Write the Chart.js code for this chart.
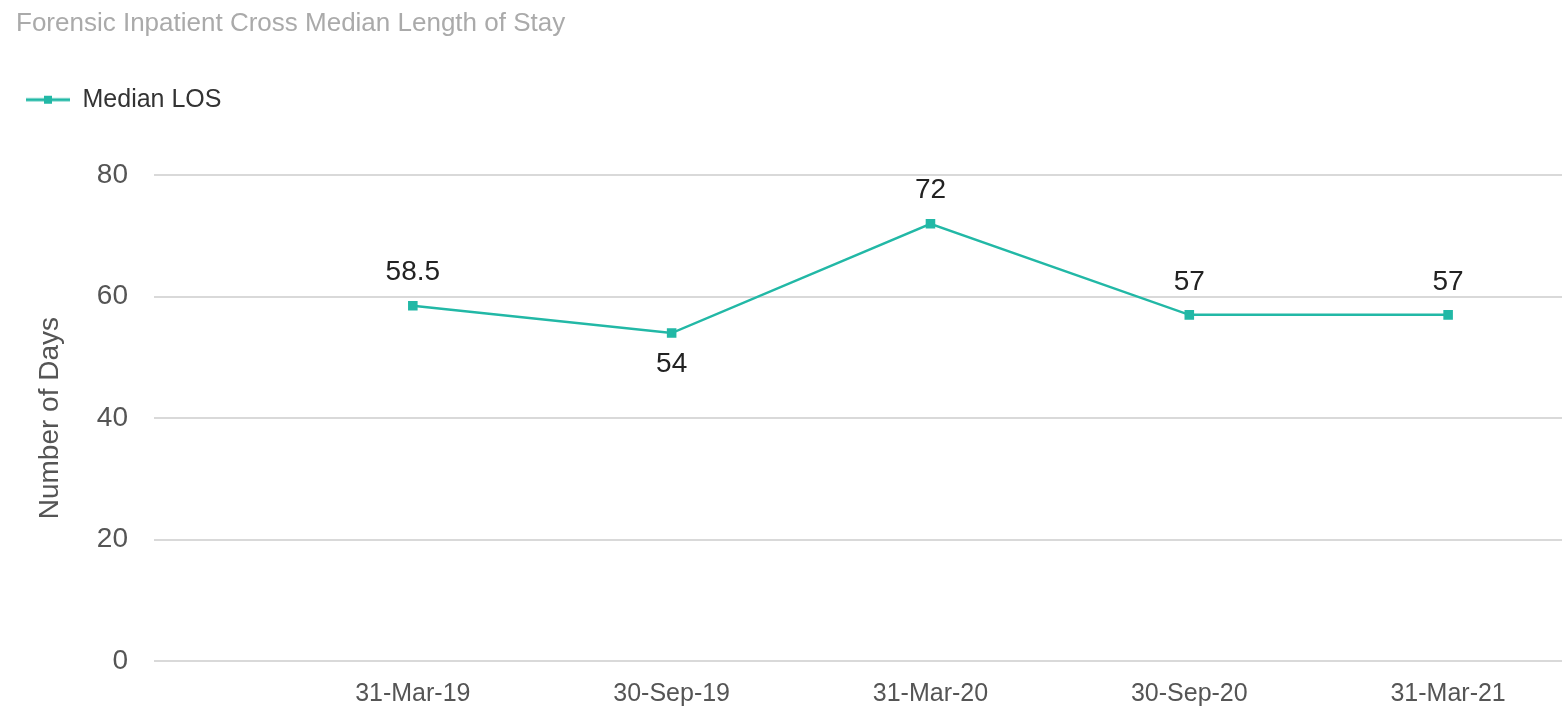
<!DOCTYPE html>
<html>
<head>
<meta charset="utf-8">
<script src="https://cdn.jsdelivr.net/npm/chart.js@4.4.1/dist/chart.umd.min.js"></script>
<style>
  html, body { margin: 0; padding: 0; background: #fff; overflow: hidden; }
  #wrap { width: 1562px; height: 714px; }
  canvas { display: block; }
</style>
</head>
<body>
<div id="wrap"><canvas id="losChart"></canvas></div>
<script>
// data
const periods = ["31-Mar-19", "30-Sep-19", "31-Mar-20", "30-Sep-20", "31-Mar-21"];
const medianLOS = [58.5, 54, 72, 57, 57];
const yTicks = [0, 20, 40, 60, 80];

const FONT = "'Liberation Sans Narrow', 'Arial Narrow', 'Liberation Sans', Arial, sans-serif";
const TEAL = "#22b8a6";

// legend marker: short line with a square in the middle
const marker = document.createElement("canvas");
marker.width = 44; marker.height = 12;
(function () {
  const c = marker.getContext("2d");
  c.strokeStyle = TEAL; c.lineWidth = 3;
  c.beginPath(); c.moveTo(0, 6); c.lineTo(44, 6); c.stroke();
  c.fillStyle = TEAL; c.fillRect(18, 2, 8, 8);
})();

// extra room under the legend
const legendGap = {
  id: "legendGap",
  beforeInit(chart) {
    const fit = chart.legend.fit;
    chart.legend.fit = function () {
      fit.call(this);
      this.height += 53;
    };
  }
};

// value labels (no datalabels plugin offline)
const valueLabels = {
  id: "valueLabels",
  afterDatasetsDraw(chart) {
    const ctx = chart.ctx;
    const meta = chart.getDatasetMeta(0);
    const vals = chart.data.datasets[0].data;
    ctx.save();
    ctx.font = "28px " + FONT;
    ctx.fillStyle = "#222";
    ctx.textAlign = "center";
    ctx.textBaseline = "middle";
    meta.data.forEach((pt, i) => {
      const v = vals[i].y;
      const prev = i > 0 ? vals[i - 1].y : -Infinity;
      const next = i < vals.length - 1 ? vals[i + 1].y : -Infinity;
      const below = v < prev && v < next;
      ctx.fillText(String(v), pt.x, below ? pt.y + 31 : pt.y - 33);
    });
    ctx.restore();
  }
};

new Chart(document.getElementById("losChart"), {
  type: "line",
  data: {
    datasets: [{
      label: "Median LOS",
      data: medianLOS.map((v, i) => ({ x: i + 1, y: v })),
      borderColor: TEAL,
      backgroundColor: TEAL,
      borderWidth: 2.5,
      pointStyle: "rect",
      pointRadius: 5,
      tension: 0
    }]
  },
  options: {
    responsive: true,
    maintainAspectRatio: false,
    animation: false,
    layout: { autoPadding: false, padding: { left: 16, right: 0, top: 0, bottom: 0 } },
    plugins: {
      title: {
        display: true,
        text: "Forensic Inpatient Cross Median Length of Stay",
        align: "start",
        color: "#aaaaaa",
        font: { family: FONT, size: 26, weight: "normal" },
        padding: { top: 8, bottom: 38 }
      },
      legend: {
        display: true,
        align: "start",
        labels: {
          usePointStyle: true,
          pointStyle: marker,
          pointStyleWidth: 44,
          color: "#333",
          font: { family: FONT, size: 25 },
          padding: 10
        }
      },
      tooltip: { enabled: false }
    },
    scales: {
      x: {
        type: "linear",
        min: 0,
        max: 5.44,
        grid: { display: false },
        border: { display: false },
        afterBuildTicks: (s) => { s.ticks = periods.map((p, i) => ({ value: i + 1 })); },
        afterFit: (s) => { s.height = 53; s.paddingLeft = 0; s.paddingRight = 0; },
        ticks: {
          autoSkip: false,
          maxRotation: 0,
          color: "#555",
          font: { family: FONT, size: 25 },
          padding: 10,
          callback: (v) => periods[v - 1] || ""
        }
      },
      y: {
        min: 0,
        max: 80,
        afterBuildTicks: (s) => { s.ticks = yTicks.map(v => ({ value: v })); },
        afterFit: (s) => { s.width = 138; },
        grid: { color: "#d9d9d9", lineWidth: 2, drawTicks: false },
        border: { display: false },
        ticks: {
          color: "#555",
          font: { family: FONT, size: 28 },
          padding: 26
        },
        title: {
          display: true,
          text: "Number of Days",
          color: "#555",
          font: { family: FONT, size: 28 },
          padding: { top: 17, bottom: 0 }
        }
      }
    }
  },
  plugins: [legendGap, valueLabels]
});
</script>
</body>
</html>
